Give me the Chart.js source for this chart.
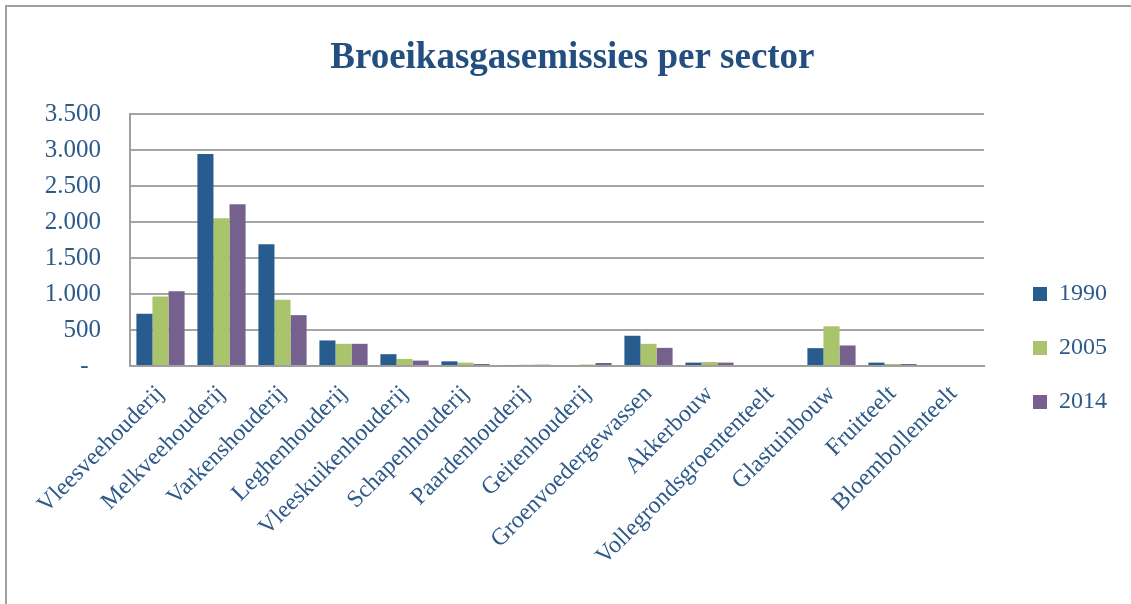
<!DOCTYPE html>
<html>
<head>
<meta charset="utf-8">
<script src="https://cdn.jsdelivr.net/npm/chart.js@4/dist/chart.umd.min.js"></script>
<style>
  body { margin: 0; background: #fff; overflow: hidden; }
  #frame { position: absolute; left: 5px; top: 5px; width: 1300px; height: 800px;
           border-left: 2px solid #a0a0a0; border-top: 2px solid #a0a0a0; }
  #myChart { position: absolute; left: 0; top: 0; }
</style>
</head>
<body>
<div id="frame"></div>
<canvas id="myChart" width="1131" height="604"></canvas>
<script>
const sectors = ["Vleesveehouderij", "Melkveehouderij", "Varkenshouderij", "Leghenhouderij",
  "Vleeskuikenhouderij", "Schapenhouderij", "Paardenhouderij", "Geitenhouderij",
  "Groenvoedergewassen", "Akkerbouw", "Vollegrondsgroententeelt", "Glastuinbouw",
  "Fruitteelt", "Bloembollenteelt"];
const y1990 = [724, 2944, 1692, 355, 164, 65, 12, 0, 420, 47, 0, 248, 47, 0];
const y2005 = [967, 2051, 920, 308, 98, 47, 18, 20, 308, 56, 0, 551, 28, 0];
const y2014 = [1037, 2248, 706, 308, 75, 28, 18, 42, 252, 47, 0, 285, 28, 0];
const yTicks = [0, 500, 1000, 1500, 2000, 2500, 3000, 3500];

const textBlue = '#2E5A8A';
const serif = "'Liberation Serif', 'DejaVu Serif', serif";

function fmt(v) {
    if (v === 0) return '-  ';
    return String(v).replace(/\B(?=(\d{3})+(?!\d))/g, '.');
}

const ctx = document.getElementById('myChart');
let myChart = new Chart(ctx, {
    type: 'bar',
    data: {
        labels: sectors,
        datasets: [
            { label: "1990", data: y1990, backgroundColor: "#285C8F" },
            { label: "2005", data: y2005, backgroundColor: "#A9C46A" },
            { label: "2014", data: y2014, backgroundColor: "#76608E" },
        ]
    },
    options: {
        responsive: false,
        animation: false,
        layout: { padding: { left: 0, right: 14, top: 0, bottom: 0 } },
        datasets: { bar: { categoryPercentage: 0.79, barPercentage: 1, borderWidth: 0 } },
        plugins: {
            title: {
                display: true,
                // leading spaces nudge the centred title to the right like the original
                text: '   Broeikasgasemissies per sector',
                color: '#234E80',
                font: { family: serif, size: 37, weight: 'bold' },
                padding: { top: 36, bottom: 33.6 }
            },
            legend: {
                position: 'right',
                align: 'center',
                title: { display: true, text: ' ', font: { size: 10 }, padding: { top: 80, bottom: 0 } },
                labels: {
                    boxWidth: 14, boxHeight: 14, padding: 30,
                    color: textBlue,
                    font: { family: serif, size: 24 }
                }
            },
            tooltip: { enabled: false }
        },
        scales: {
            x: {
                grid: { display: false },
                border: { color: '#a0a0a0', width: 2 },
                ticks: {
                    minRotation: 45, maxRotation: 45, padding: 6,
                    color: textBlue,
                    font: { family: serif, size: 24 }
                },
                afterFit: (s) => { s.height = 238; }
            },
            y: {
                min: 0, max: 3500,
                afterBuildTicks: (s) => { s.ticks = yTicks.map(v => ({ value: v })); },
                grid: { color: '#a5a5a5', lineWidth: 2, drawTicks: false },
                border: { color: '#a0a0a0', width: 2 },
                ticks: {
                    padding: 29,
                    color: textBlue,
                    font: { family: serif, size: 25 },
                    callback: (v) => fmt(v)
                },
                afterFit: (s) => { s.width = 130; }
            },
            // empty spacer between plot area and legend
            gap: {
                position: 'right',
                min: 0, max: 3500,
                grid: { display: false },
                border: { display: false },
                ticks: { display: false },
                afterFit: (s) => { s.width = 19; }
            }
        }
    }
});
</script>
</body>
</html>
